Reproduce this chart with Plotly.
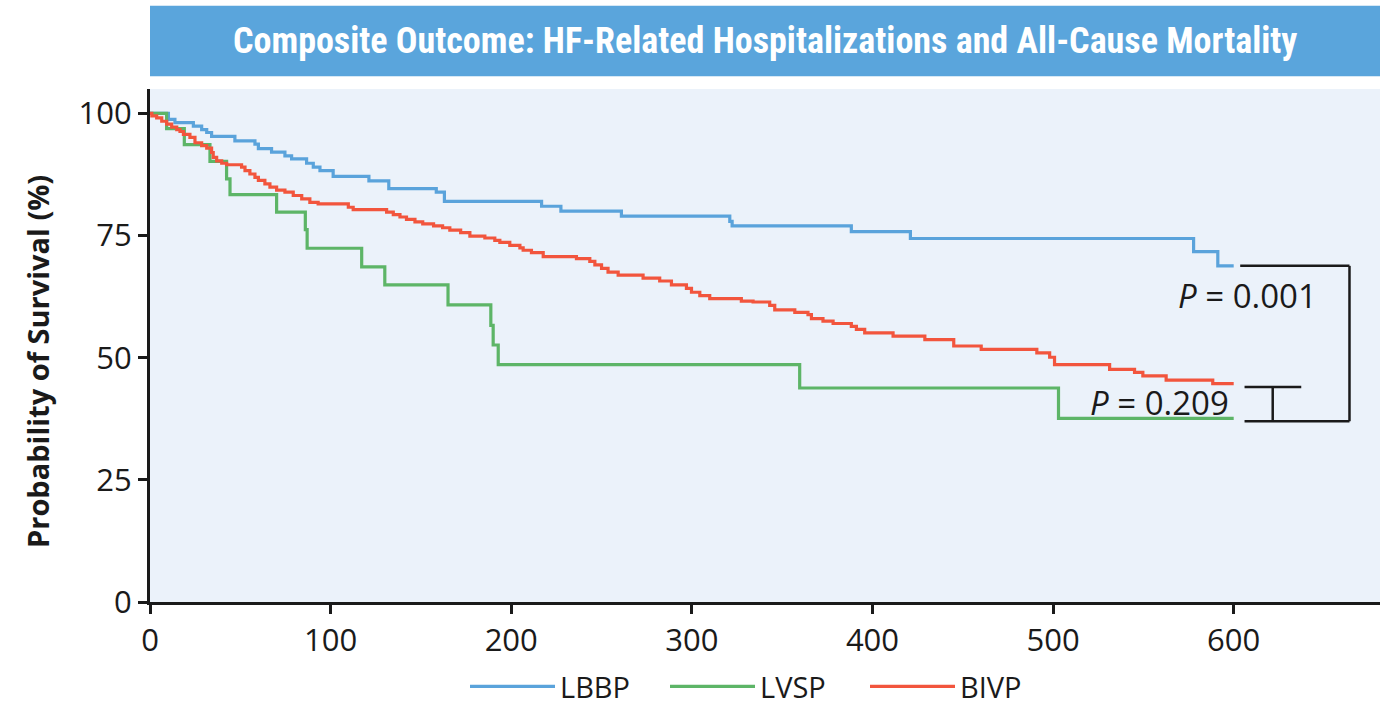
import plotly.graph_objects as go

# ---- data ----
lbbp_t = [0, 10.2, 13.8, 24, 28.6, 31.4, 34.1, 47, 58.1, 60, 67.3, 74.7, 78.4, 86.7, 90.4, 94.1,
          101.4, 121.2, 132.2, 158.5, 163, 216.8, 227.5, 261, 321, 322.3, 388.3, 421, 577.8, 591.2, 600]
lbbp_s = [100, 98.8, 98.1, 97.4, 96.7, 96.1, 95.3, 94.4, 93.7, 92.8, 92.1, 91.3, 90.7, 89.8, 89.0, 88.3,
          87.1, 86.2, 84.6, 83.9, 82.0, 81.0, 80.0, 79.0, 77.9, 77.0, 75.8, 74.4, 71.7, 68.8, 68.8]

lvsp_t = [0, 9.2, 19, 33.2, 42.4, 44.3, 70.1, 86.0, 87.0, 117.2, 130, 165, 188.7, 190, 192.8, 359.7, 503, 600]
lvsp_s = [100, 96.9, 93.6, 90.2, 86.6, 83.4, 79.8, 76.2, 72.4, 68.6, 64.9, 60.8, 56.6, 52.6, 48.6, 43.8, 37.6, 37.6]

bivp_t = [0, 1, 3.7, 6.5, 9.2, 12, 14.8, 16.6, 18.5, 22.1, 24.9, 28.6, 31.4, 34.1, 35, 36.9, 39.7, 42.4,
          50.7, 52.6, 55.3, 58.1, 60, 63.6, 66.4, 70.1, 74.7, 79.3, 84, 88.5, 93.1, 109.8, 112.5, 131,
          134.7, 138.4, 142, 146.7, 151, 157, 162, 166, 172, 177.1, 185.4, 190.9, 193.7, 199.2, 204.8,
          206.6, 211.2, 217.7, 236.1, 243.5, 246.3, 250, 253.6, 259.2, 273, 282.2, 288.7, 297, 299.8,
          304.4, 309.9, 327.4, 333.9, 343.1, 345.9, 357, 364.3, 366.2, 372.6, 378.2, 388.3, 391.1,
          395.7, 411.4, 429, 445, 460.2, 491, 498.1, 500.8, 531.3, 545.1, 549.7, 562.6, 588.4, 600]
bivp_s = [100, 99.5, 99.1, 98.4, 97.8, 97.2, 96.7, 96.3, 95.7, 95.1, 94.0, 93.4, 92.9, 92.0, 91.0, 90.3, 89.8, 89.5,
          89.0, 88.3, 87.6, 86.9, 86.3, 85.6, 84.9, 84.3, 83.9, 83.2, 82.5, 81.8, 81.5, 80.8, 80.3, 79.8,
          79.3, 78.8, 78.3, 77.8, 77.4, 77.0, 76.6, 76.1, 75.6, 74.9, 74.5, 74.0, 73.6, 73.0, 72.5,
          72.0, 71.5, 70.7, 70.3, 69.7, 69.0, 68.3, 67.5, 66.9, 66.3, 65.7, 64.9, 64.2, 63.4,
          62.7, 62.1, 61.6, 61.4, 60.7, 59.8, 59.3, 58.8, 58.0, 57.5, 57.0, 56.4, 55.8,
          55.1, 54.4, 53.7, 52.4, 51.7, 51.0, 50.1, 48.6, 47.6, 47.0, 46.3, 45.4, 44.7, 44.7]

x_ticks = [0, 100, 200, 300, 400, 500, 600]
y_ticks = [0, 25, 50, 75, 100]
p_labels = ["<i>P</i> = 0.001", "<i>P</i> = 0.209"]

title_text = "Composite Outcome: HF-Related Hospitalizations and All-Cause Mortality"
y_title = "Probability of Survival (%)"

BLUE = "#5AA3DB"
GREEN = "#5DB567"
RED = "#F2553D"
FONT = "Open Sans, DejaVu Sans, sans-serif"
COND = "Roboto Condensed, Liberation Sans Narrow, Open Sans, sans-serif"

fig = go.Figure()
for name, t, s, c in [("LBBP", lbbp_t, lbbp_s, BLUE),
                      ("LVSP", lvsp_t, lvsp_s, GREEN),
                      ("BIVP", bivp_t, bivp_s, RED)]:
    fig.add_trace(go.Scatter(x=t, y=s, mode="lines", name=name,
                             line=dict(color=c, width=3.2, shape="hv")))

# comparison brackets
end_b, end_r, end_g = lbbp_s[-1], bivp_s[-1], lvsp_s[-1]
bk = dict(color="#1a1a1a", width=2.5)
shapes = [
    dict(type="line", x0=603.6, x1=664.1, y0=end_b, y1=end_b, line=bk),
    dict(type="line", x0=664.1, x1=664.1, y0=end_b, y1=end_g - 0.6, line=bk),
    dict(type="line", x0=606, x1=664.1, y0=end_g - 0.6, y1=end_g - 0.6, line=bk),
    dict(type="line", x0=606, x1=637.4, y0=end_r - 0.7, y1=end_r - 0.7, line=bk),
    dict(type="line", x0=621.6, x1=621.6, y0=end_r - 0.7, y1=end_g - 0.6, line=bk),
    # title banner
    dict(type="rect", xref="paper", yref="paper", x0=0, x1=1, y0=1.025, y1=1.1625,
         fillcolor="#5AA5DC", line=dict(width=0), layer="below"),
]

annotations = [
    dict(x=607.6, y=62.8, text=p_labels[0], showarrow=False, xref="x", yref="y",
         font=dict(size=33, color="#1a1a1a", family=FONT)),
    dict(x=559, y=40.9, text=p_labels[1], showarrow=False, xref="x", yref="y",
         font=dict(size=33, color="#1a1a1a", family=FONT)),
    dict(x=0.5, y=1.094, xref="paper", yref="paper", text="<b>" + title_text + "</b>",
         showarrow=False, xanchor="center", yanchor="middle",
         font=dict(size=36, color="white", family=COND)),
    dict(x=-0.091, y=0.468, xref="paper", yref="paper", text="<b>" + y_title + "</b>",
         showarrow=False, textangle=-90, xanchor="center", yanchor="middle",
         font=dict(size=29, color="#1a1a1a", family=FONT)),
]

fig.update_layout(
    width=1380, height=712,
    margin=dict(l=150, r=0, t=89, b=106),
    paper_bgcolor="white",
    plot_bgcolor="#EBF2FA",
    shapes=shapes,
    annotations=annotations,
    showlegend=True,
    legend=dict(orientation="h", x=0.5, xanchor="center", y=-0.115, yanchor="top",
                font=dict(size=29, color="#1a1a1a", family=FONT), itemwidth=85,
                entrywidth=100, entrywidthmode="pixels",
                bgcolor="rgba(0,0,0,0)"),
    font=dict(family=FONT, color="#1a1a1a"),
)
fig.update_xaxes(range=[0, 681], tickvals=x_ticks, ticks="outside", ticklen=9, tickwidth=3,
                 tickcolor="#1a1a1a", showline=True, linewidth=3, linecolor="#1a1a1a",
                 showgrid=False, zeroline=False, tickfont=dict(size=31, family=FONT, color="#1a1a1a"))
fig.update_yaxes(range=[0, 105], tickvals=y_ticks, ticks="outside", ticklen=9, tickwidth=3,
                 tickcolor="#1a1a1a", showline=True, linewidth=3, linecolor="#1a1a1a",
                 showgrid=False, zeroline=False, tickfont=dict(size=31, family=FONT, color="#1a1a1a"))

fig.write_html("out.html", config={"displayModeBar": False},
               post_script="document.body.style.margin='0';document.body.style.overflow='hidden';")
